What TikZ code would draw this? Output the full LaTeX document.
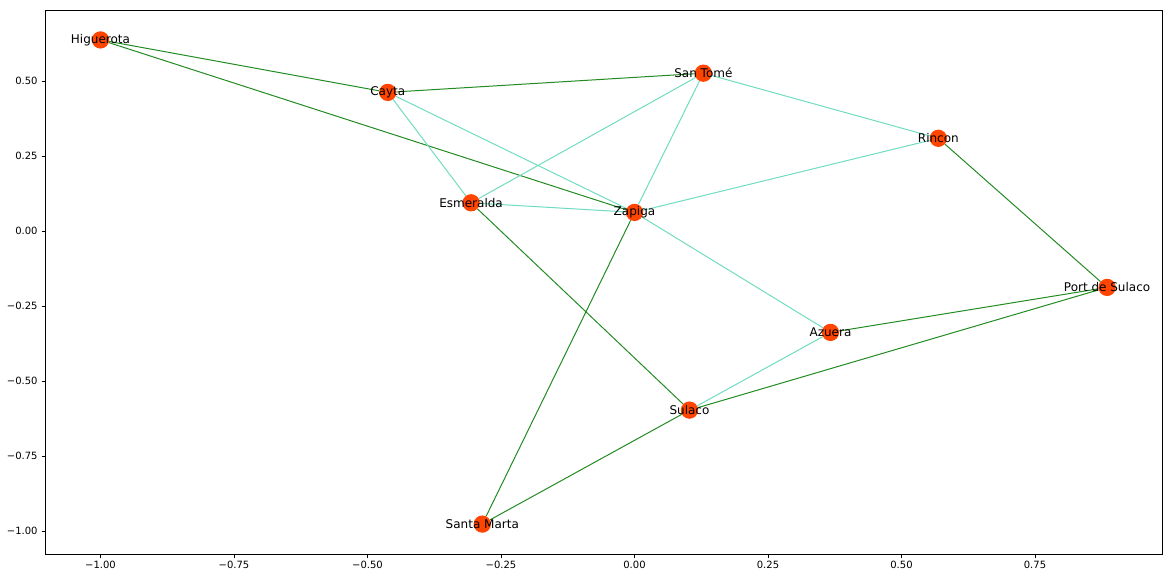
\documentclass[tikz,border=0pt]{standalone}
\usepackage{fontspec}
\setmainfont{DejaVu Sans}
\usepackage{tikz}
\usetikzlibrary{backgrounds}
\usepackage{xcolor}
\definecolor{cityred}{HTML}{FF4500}
\definecolor{roadgreen}{HTML}{228B22}
\definecolor{trackaqua}{HTML}{6FDCC0}

\begin{document}
\begin{tikzpicture}[
  x=534pt,y=300pt,
  city/.style={circle,inner sep=0pt,minimum size=17.3pt,fill=cityred,
    label={[font=\fontsize{12}{14}\selectfont,inner sep=0pt]center:#1}},
  road/.style={roadgreen,line width=1pt},
  track/.style={trackaqua,line width=1pt},
  tick/.style={line width=0.8pt},
  ticklabel/.style={font=\fontsize{10}{12}\selectfont,inner sep=0pt}
  ]
\def\xmin{-1.1039}
\def\xmax{0.9878}
\def\ymin{-1.0767}
\def\ymax{0.7367}
\useasboundingbox (-1.18820,-1.15667) rectangle (1.00468,0.77);
% cities
\node[city=Higuerota] (hig) at (-1.000,0.637){};
\node[city=Cayta] (cay) at (-0.462,0.462){};
\node[city=San Tomé] (sto) at (0.129,0.526){};
\node[city=Rincon] (rin) at (0.569,0.309){};
\node[city=Esmeralda] (esm) at (-0.306,0.094){};
\node[city=Zapiga] (zap) at (0.000,0.062){};
\node[city=Port de Sulaco] (pds) at (0.885,-0.188){};
\node[city=Azuera] (azu) at (0.367,-0.338){};
\node[city=Sulaco] (sul) at (0.103,-0.597){};
\node[city=Santa Marta] (sma) at (-0.285,-0.977){};
\begin{scope}[on background layer]
\draw[road] (hig) -- (cay);
\draw[road] (hig) -- (zap);
\draw[road] (cay) -- (sto);
\draw[road] (rin) -- (pds);
\draw[road] (esm) -- (sul);
\draw[road] (zap) -- (sma);
\draw[road] (sma) -- (sul);
\draw[road] (sul) -- (pds);
\draw[road] (azu) -- (pds);
\draw[track] (cay) -- (esm);
\draw[track] (cay) -- (zap);
\draw[track] (sto) -- (esm);
\draw[track] (sto) -- (zap);
\draw[track] (sto) -- (rin);
\draw[track] (esm) -- (zap);
\draw[track] (zap) -- (rin);
\draw[track] (zap) -- (azu);
\draw[track] (azu) -- (sul);
\end{scope}
% axes
\draw[tick] (\xmin,\ymin) rectangle (\xmax,\ymax);
\foreach \t/\l in {-1/{−1.00},-0.75/{−0.75},-0.5/{−0.50},-0.25/{−0.25},0/{0.00},0.25/{0.25},0.5/{0.50},0.75/{0.75}}
  \draw[tick] (\t,\ymin) -- ++(0,-3.5pt) node[ticklabel,anchor=north,yshift=-3.5pt]{\l};
\foreach \t/\l in {-1/{−1.00},-0.75/{−0.75},-0.5/{−0.50},-0.25/{−0.25},0/{0.00},0.25/{0.25},0.5/{0.50}}
  \draw[tick] (\xmin,\t) -- ++(-3.5pt,0) node[ticklabel,anchor=east,xshift=-3.5pt]{\l};
\end{tikzpicture}
\end{document}
